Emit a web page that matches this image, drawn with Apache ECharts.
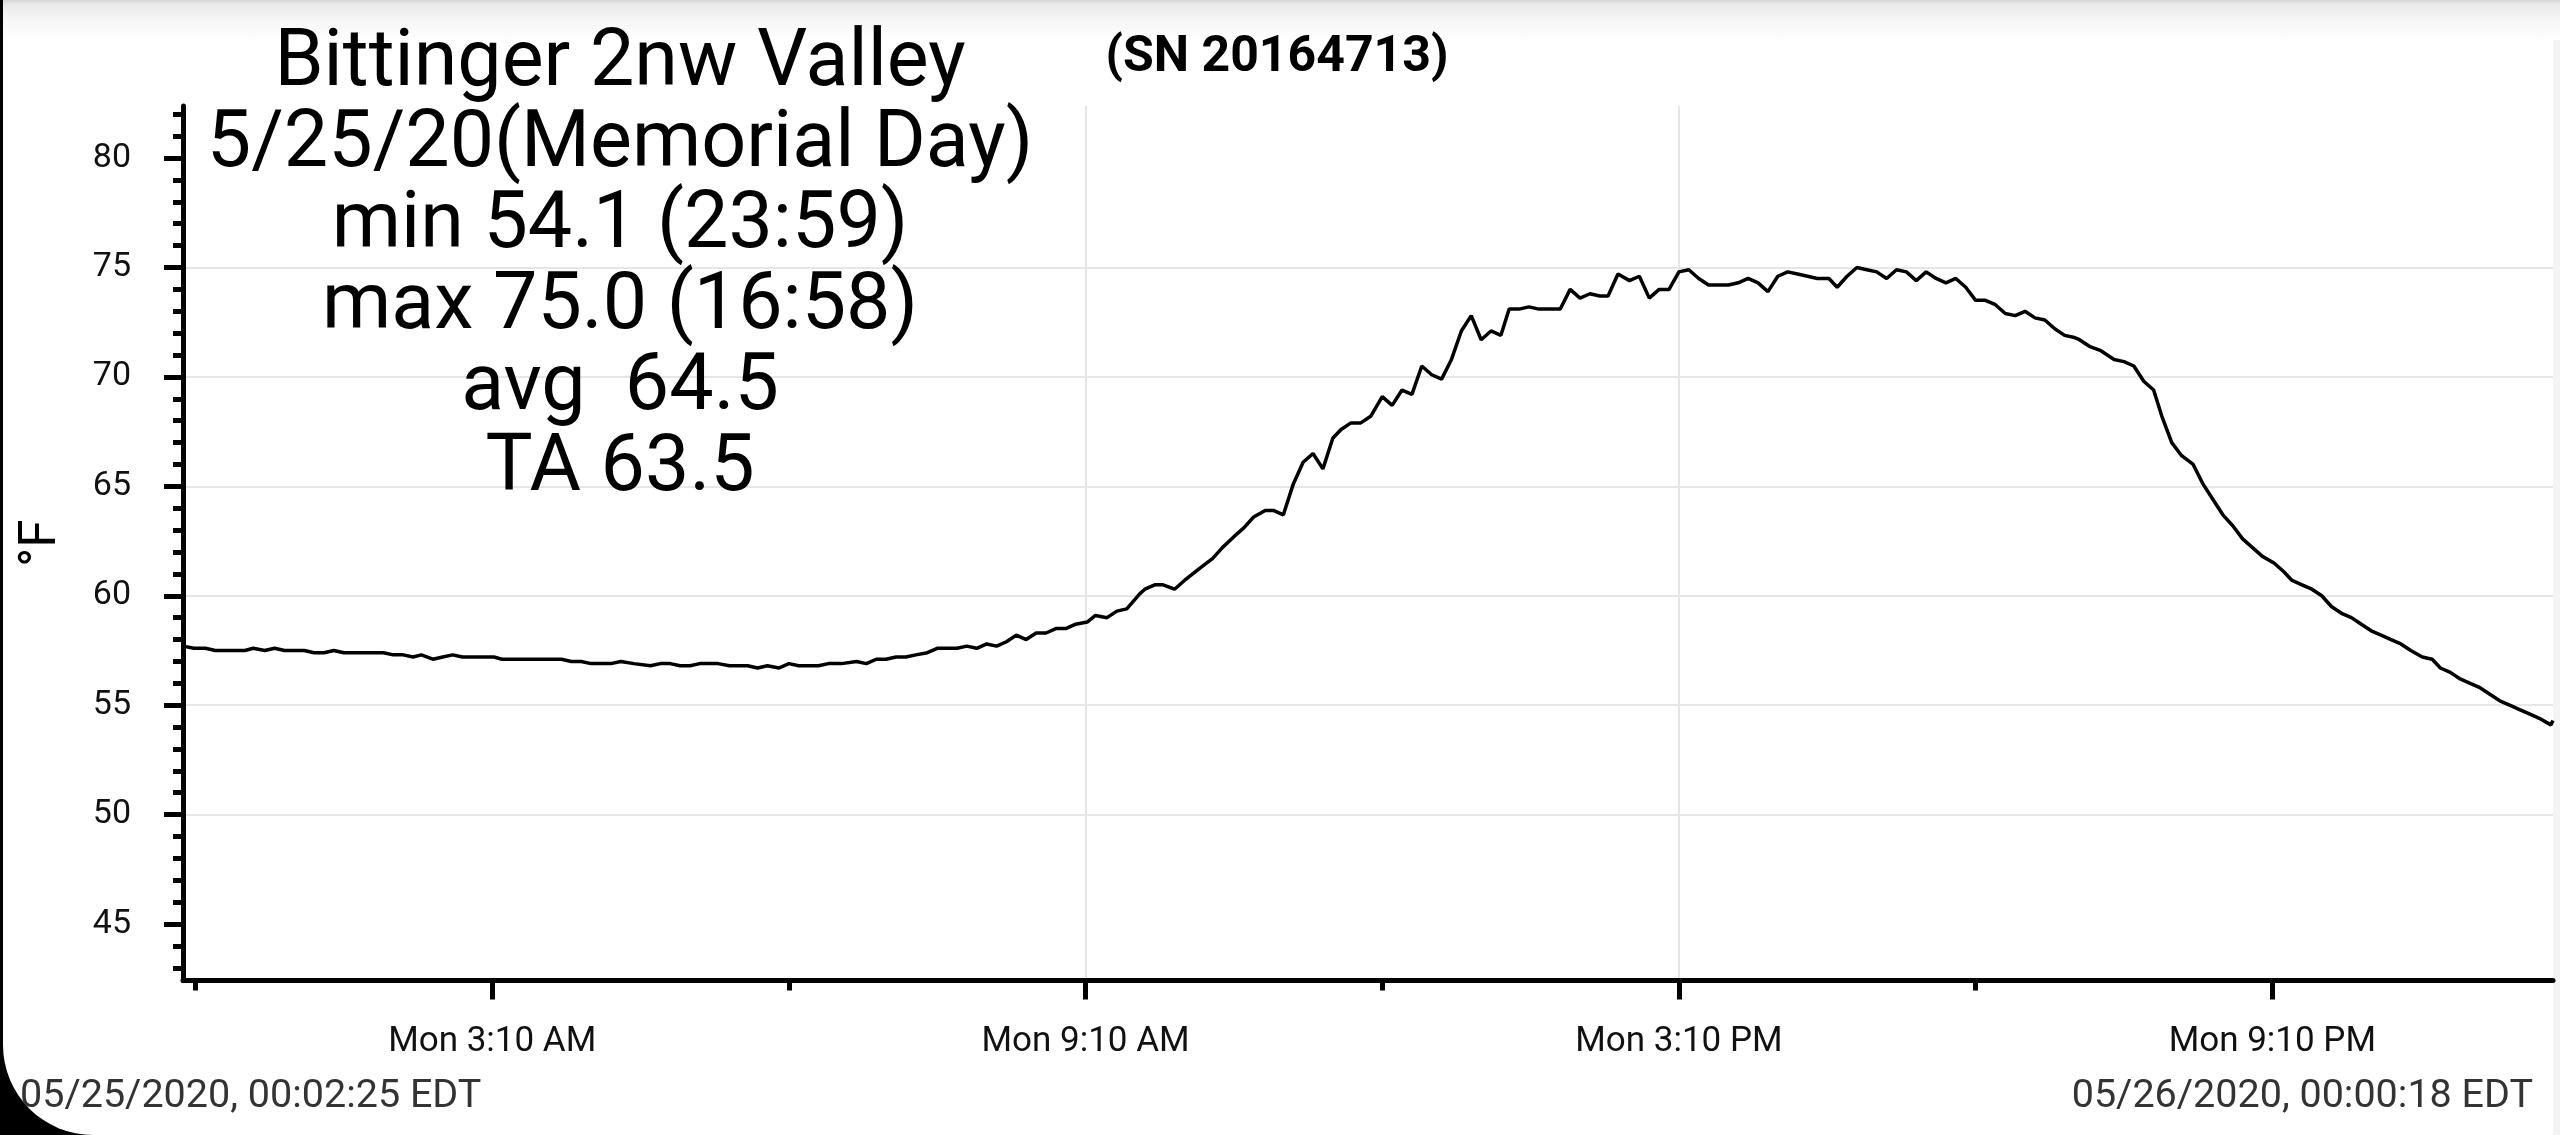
<!DOCTYPE html>
<html>
<head>
<meta charset="utf-8">
<script src="https://cdn.jsdelivr.net/npm/echarts@6/dist/echarts.min.js"></script>
<style>
  html, body { margin: 0; padding: 0; width: 2560px; height: 1135px; overflow: hidden; background: #000; }
  #frame {
    position: absolute; left: 3px; top: 0; width: 2557px; height: 1135px;
    background: linear-gradient(#d4d4d4 0px, #e9e9e9 4px, #f6f6f6 20px, #fff 42px);
    border-bottom-left-radius: 90px;
  }
  #edge { position: absolute; right: 0; top: 40px; bottom: 0; width: 7px; background: #f4f4f4; }
  #chart { position: absolute; left: 0; top: 0; width: 2560px; height: 1135px; }
</style>
</head>
<body>
<div id="frame"><div id="edge"></div></div>
<div id="chart"></div>
<script>
// text shown on the chart
const titleLines = [
  "Bittinger 2nw Valley",
  "5/25/20(Memorial Day)",
  "min 54.1 (23:59)",
  "max 75.0 (16:58)",
  "avg  64.5",
  "TA 63.5"
];
const serialText = "(SN 20164713)";
const startText = "05/25/2020, 00:02:25 EDT";
const endText = "05/26/2020, 00:00:18 EDT";
const unitName = "°F";

// time range, minutes after midnight 05/25
const startMin = 2 + 25 / 60;
const endMin = 1440 + 18 / 60;

// tick positions (minutes after midnight) and temperature ticks
const xLabelMins = [190, 550, 910, 1270];            // Mon 3:10 AM, 9:10 AM, 3:10 PM, 9:10 PM
const yTickVals = [45, 50, 55, 60, 65, 70, 75, 80];

// readings: minutes after midnight / temperature (°F)
const timeMin = [
  2.4, 9, 16, 22, 31, 40, 45, 52, 58, 64,
  76, 82, 88, 94, 100, 124, 130, 136, 142, 147,
  154, 160, 166, 172, 191, 196, 232, 238, 244, 250,
  262, 268, 276, 286, 292, 298, 304, 310, 316, 327,
  334, 345, 351, 357, 364, 370, 376, 388, 394, 402,
  411, 417, 423, 429, 435, 441, 447, 454, 460, 466,
  472, 478, 484, 490, 496, 502, 508, 514, 520, 526,
  532, 538, 544, 551, 556, 563, 569, 575, 583, 586,
  592, 597, 604, 610, 620, 627, 633, 640, 646, 652,
  659, 664, 670, 676, 682, 688, 694, 700, 705, 711,
  717, 723, 730, 736, 742, 748, 754, 760, 766, 772,
  778, 784, 790, 796, 802, 807, 813, 819, 825, 838,
  844, 850, 856, 862, 867, 873, 880, 886, 892, 898,
  904, 910, 916, 922, 928, 934, 940, 946, 952, 958,
  964, 970, 976, 982, 988, 994, 1001, 1006, 1012, 1018,
  1024, 1030, 1036, 1042, 1048, 1054, 1060, 1066, 1072, 1078,
  1084, 1090, 1096, 1102, 1108, 1114, 1120, 1126, 1132, 1138,
  1144, 1150, 1153, 1159, 1166, 1174, 1180, 1186, 1192, 1198,
  1203, 1209, 1215, 1222, 1228, 1234, 1240, 1246, 1252, 1258,
  1264, 1271, 1277, 1282, 1288, 1294, 1300, 1306, 1312, 1318,
  1324, 1330, 1336, 1342, 1348, 1354, 1361, 1367, 1372, 1378,
  1384, 1390, 1396, 1402, 1408, 1414, 1420, 1426, 1432, 1439, 1440.3
];
const tempF = [
  57.7, 57.6, 57.6, 57.5, 57.5, 57.5, 57.6, 57.5, 57.6, 57.5,
  57.5, 57.4, 57.4, 57.5, 57.4, 57.4, 57.3, 57.3, 57.2, 57.3,
  57.1, 57.2, 57.3, 57.2, 57.2, 57.1, 57.1, 57.0, 57.0, 56.9,
  56.9, 57.0, 56.9, 56.8, 56.9, 56.9, 56.8, 56.8, 56.9, 56.9,
  56.8, 56.8, 56.7, 56.8, 56.7, 56.9, 56.8, 56.8, 56.9, 56.9,
  57.0, 56.9, 57.1, 57.1, 57.2, 57.2, 57.3, 57.4, 57.6, 57.6,
  57.6, 57.7, 57.6, 57.8, 57.7, 57.9, 58.2, 58.0, 58.3, 58.3,
  58.5, 58.5, 58.7, 58.8, 59.1, 59.0, 59.3, 59.4, 60.1, 60.3,
  60.5, 60.5, 60.3, 60.7, 61.3, 61.7, 62.2, 62.7, 63.1, 63.6,
  63.9, 63.9, 63.7, 65.1, 66.1, 66.5, 65.8, 67.2, 67.6, 67.9,
  67.9, 68.2, 69.1, 68.7, 69.4, 69.2, 70.5, 70.1, 69.9, 70.8,
  72.1, 72.8, 71.7, 72.1, 71.9, 73.1, 73.1, 73.2, 73.1, 73.1,
  74.0, 73.6, 73.8, 73.7, 73.7, 74.7, 74.4, 74.6, 73.6, 74.0,
  74.0, 74.8, 74.9, 74.5, 74.2, 74.2, 74.2, 74.3, 74.5, 74.3,
  73.9, 74.6, 74.8, 74.7, 74.6, 74.5, 74.5, 74.1, 74.6, 75.0,
  74.9, 74.8, 74.5, 74.9, 74.8, 74.4, 74.8, 74.5, 74.3, 74.5,
  74.1, 73.5, 73.5, 73.3, 72.9, 72.8, 73.0, 72.7, 72.6, 72.2,
  71.9, 71.8, 71.7, 71.4, 71.2, 70.8, 70.7, 70.5, 69.8, 69.4,
  68.2, 67.0, 66.4, 66.0, 65.1, 64.4, 63.7, 63.2, 62.6, 62.2,
  61.8, 61.5, 61.1, 60.7, 60.5, 60.3, 60.0, 59.5, 59.2, 59.0,
  58.7, 58.4, 58.2, 58.0, 57.8, 57.5, 57.2, 57.1, 56.7, 56.5,
  56.2, 56.0, 55.8, 55.5, 55.2, 55.0, 54.8, 54.6, 54.4, 54.1, 54.3
];

// the x axis counts minutes from 3:10 AM so its 6-hour ticks fall on :10
const ORIGIN = 190;
const FONT = "Roboto, 'Noto Sans', sans-serif";

function fmtTime(v) {
  const m = Math.round(v + ORIGIN);
  const h = Math.floor(m / 60) % 24;
  const mm = ((m % 60) + 60) % 60;
  const h12 = h % 12 === 0 ? 12 : h % 12;
  return "Mon " + h12 + ":" + String(mm).padStart(2, "0") + " " + (h < 12 ? "AM" : "PM");
}

const chart = echarts.init(document.getElementById("chart"));

const option = {
  animation: false,
  grid: { left: 183, right: 7, top: 106, bottom: 154.5, outerBoundsMode: "none" },
  xAxis: {
    type: "value",
    min: startMin - ORIGIN,
    max: endMin - ORIGIN,
    minInterval: 360,
    maxInterval: 360,
    axisLine: { onZero: false, lineStyle: { color: "#000", width: 5 } },
    axisTick: {
      show: true, length: 19,
      customValues: xLabelMins.map(m => m - ORIGIN),
      lineStyle: { color: "#000", width: 5 }
    },
    minorTick: { show: true, splitNumber: 2, length: 10, lineStyle: { color: "#000", width: 5 } },
    axisLabel: {
      customValues: xLabelMins.map(m => m - ORIGIN),
      formatter: v => (Math.abs(v % 360) < 1e-6 ? fmtTime(v) : ""),
      margin: 44, fontSize: 35, fontFamily: FONT, color: "#111"
    },
    splitLine: { show: true, showMinLine: false, showMaxLine: false, lineStyle: { color: "#e6e6e6", width: 2 } }
  },
  yAxis: {
    type: "value",
    min: 42.42,
    max: 82.38,
    minInterval: 5,
    maxInterval: 5,
    name: unitName,
    nameLocation: "middle",
    nameRotate: 90,
    nameGap: 115,
    nameTextStyle: { fontSize: 51, fontFamily: FONT, color: "#000" },
    axisLine: { show: true, onZero: false, lineStyle: { color: "#000", width: 5 } },
    axisTick: { show: true, length: 19, customValues: yTickVals, lineStyle: { color: "#000", width: 5 } },
    minorTick: { show: true, splitNumber: 5, length: 10, lineStyle: { color: "#000", width: 5 } },
    axisLabel: {
      customValues: yTickVals,
      formatter: v => (Math.abs(v % 5) < 1e-6 ? String(v) : ""),
      margin: 52, fontSize: 34, fontFamily: FONT, color: "#111"
    },
    splitLine: { show: true, showMinLine: false, showMaxLine: false, lineStyle: { color: "#e6e6e6", width: 2 } }
  },
  series: [{
    type: "line",
    data: timeMin.map((m, i) => [m - ORIGIN, tempF[i]]),
    showSymbol: false,
    smooth: false,
    lineStyle: { color: "#000", width: 3.5 },
    itemStyle: { color: "#000" },
    z: 3
  }],
  graphic: [
    ...titleLines.map((t, i) => ({
      type: "text", x: 620, y: 65 + i * 81, z: 10,
      style: { text: t, fontSize: 79, fontFamily: FONT, fill: "#000", align: "center", verticalAlign: "middle" }
    })),
    {
      type: "text", x: 1277, y: 58, z: 10,
      style: { text: serialText, fontSize: 50, fontWeight: "bold", fontFamily: FONT, fill: "#000", align: "center", verticalAlign: "middle" }
    },
    {
      type: "text", x: 20, y: 1097,
      style: { text: startText, fontSize: 39.5, fontFamily: FONT, fill: "#333", align: "left", verticalAlign: "middle" }
    },
    {
      type: "text", x: 2533, y: 1097,
      style: { text: endText, fontSize: 39.5, fontFamily: FONT, fill: "#333", align: "right", verticalAlign: "middle" }
    }
  ]
};

chart.setOption(option);
</script>
</body>
</html>
